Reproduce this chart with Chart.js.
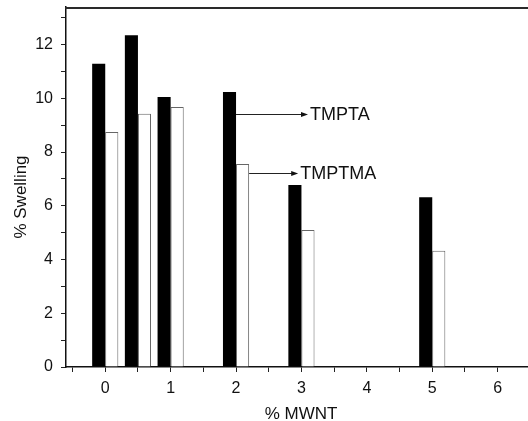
<!DOCTYPE html>
<html>
<head>
<meta charset="utf-8">
<script src="https://cdn.jsdelivr.net/npm/chart.js@4/dist/chart.umd.min.js"></script>
<style>
  html, body { margin: 0; padding: 0; background: #fff; overflow: hidden; }
  #wrap { position: relative; width: 528px; height: 421px; }
</style>
</head>
<body>
<div id="wrap"><canvas id="grafico"></canvas></div>
<script>
// % MWNT de cada muestra y su hinchamiento
const mwnt = [0, 0.5, 1, 2, 3, 5];
const hinchTMPTA = [11.29, 12.35, 10.05, 10.24, 6.77, 6.32];
const hinchTMPTMA = [8.75, 9.43, 9.68, 7.56, 5.10, 4.33];

// marcas de los ejes (las que no son enteras / pares van sin texto)
const ticksX = [-0.5, 0, 0.5, 1, 1.5, 2, 2.5, 3, 3.5, 4, 4.5, 5, 5.5, 6];
const ticksY = [0, 1, 2, 3, 4, 5, 6, 7, 8, 9, 10, 11, 12, 13];

// flechas con el nombre de cada serie: [x inicio, x punta, y, texto]
const flechas = [
  [2.0, 3.1, 9.43, 'TMPTA'],
  [2.2, 2.95, 7.23, 'TMPTMA']
];

const FUENTE = '"Liberation Sans", Arial, Helvetica, sans-serif';

const puntos = (ys) => mwnt.map((x, i) => ({ x, y: ys[i] }));

const titulosYFlechas = {
  id: 'titulosYFlechas',
  afterDraw(chart) {
    const { ctx, scales } = chart;
    const sx = scales.x, sy = scales.y;
    const izq = sx.left, der = sx.right;
    const arriba = sy.top, abajo = sy.bottom;
    ctx.save();

    // línea superior del marco (justo dentro del área)
    ctx.fillStyle = '#2a2a2a';
    ctx.fillRect(Math.floor(izq) - 1, Math.floor(arriba), Math.ceil(der - izq) + 2, 2);

    // títulos de los ejes
    ctx.fillStyle = '#111';
    ctx.font = '17px ' + FUENTE;
    ctx.textAlign = 'center';
    ctx.textBaseline = 'alphabetic';
    ctx.fillText('% MWNT', (izq + der) / 2 + 4, abajo + 52);

    ctx.save();
    ctx.translate(26, (arriba + abajo) / 2 + 10);
    ctx.rotate(-Math.PI / 2);
    ctx.fillText('% Swelling', 0, 0);
    ctx.restore();

    // flechas de la leyenda
    ctx.strokeStyle = '#222';
    ctx.fillStyle = '#111';
    ctx.lineWidth = 1;
    ctx.font = '18px ' + FUENTE;
    ctx.textAlign = 'left';
    ctx.textBaseline = 'middle';
    flechas.forEach(([x0, x1, y, txt]) => {
      const px0 = sx.getPixelForValue(x0);
      const px1 = sx.getPixelForValue(x1);
      const py = Math.round(sy.getPixelForValue(y)) + 0.5;
      ctx.beginPath();
      ctx.moveTo(px0, py);
      ctx.lineTo(px1 - 5, py);
      ctx.stroke();
      ctx.beginPath();
      ctx.moveTo(px1, py);
      ctx.lineTo(px1 - 7, py - 2.5);
      ctx.lineTo(px1 - 7, py + 2.5);
      ctx.closePath();
      ctx.fill();
      ctx.fillText(txt, px1 + 2, py + 1);
    });

    ctx.restore();
  }
};

new Chart(document.getElementById('grafico'), {
  type: 'bar',
  data: {
    datasets: [
      {
        label: 'TMPTA',
        data: puntos(hinchTMPTA),
        backgroundColor: '#000',
        borderColor: '#000',
        borderWidth: 0
      },
      {
        label: 'TMPTMA',
        data: puntos(hinchTMPTMA),
        backgroundColor: '#fff',
        borderColor: '#666',
        borderWidth: 1,
        borderSkipped: 'bottom'
      }
    ]
  },
  options: {
    responsive: true,
    maintainAspectRatio: false,
    animation: false,
    events: [],
    categoryPercentage: 0.8,
    barPercentage: 1.0,
    layout: { padding: { top: 7, right: 0, left: 0, bottom: 0 } },
    plugins: {
      legend: { display: false },
      tooltip: { enabled: false }
    },
    scales: {
      x: {
        type: 'linear',
        min: -0.6,
        max: 6.464,
        offset: false,
        grid: { offset: false, drawOnChartArea: false, drawTicks: true, tickLength: 5, color: '#222' },
        border: { color: '#111', width: 1.5 },
        afterBuildTicks: (s) => { s.ticks = ticksX.map(v => ({ value: v })); },
        afterFit: (s) => { s.height = 54; s.paddingLeft = 0; s.paddingRight = 0; },
        ticks: {
          autoSkip: false,
          maxRotation: 0,
          padding: 7,
          color: '#111',
          font: { size: 16, family: FUENTE },
          callback: (v) => Number.isInteger(v) ? String(v) : ''
        }
      },
      y: {
        min: 0,
        max: 13.4,
        grid: { drawOnChartArea: false, drawTicks: true, tickLength: 5, color: '#222' },
        border: { color: '#111', width: 1.5 },
        afterBuildTicks: (s) => { s.ticks = ticksY.map(v => ({ value: v })); },
        afterFit: (s) => { s.width = 66; s.paddingTop = 0; s.paddingBottom = 0; },
        ticks: {
          autoSkip: false,
          padding: 8,
          color: '#111',
          font: { size: 16, family: FUENTE },
          callback: (v) => v % 2 === 0 ? String(v) : ''
        }
      }
    }
  },
  plugins: [titulosYFlechas]
});
</script>
</body>
</html>
